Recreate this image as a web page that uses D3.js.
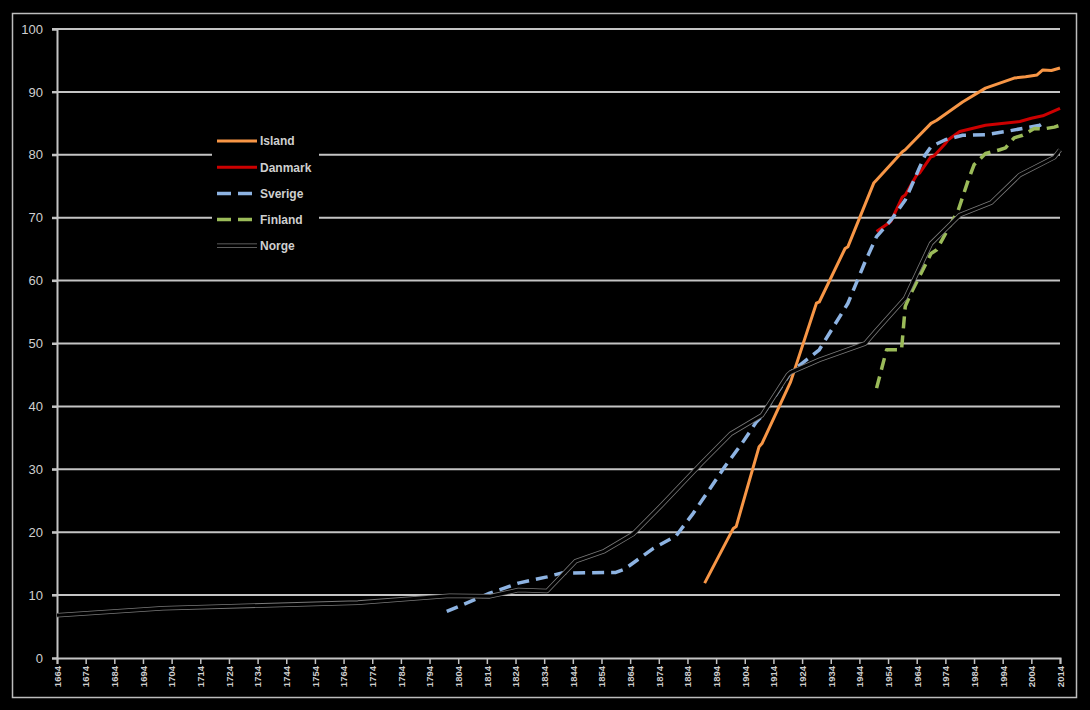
<!DOCTYPE html>
<html><head><meta charset="utf-8">
<script src="https://cdn.jsdelivr.net/npm/d3@7"></script>
<style>html,body{margin:0;padding:0;background:#000;overflow:hidden;} svg{display:block;}</style>
</head><body><svg id="c" width="1090" height="710"></svg>
<script>
const xTickYears = [1664,1674,1684,1694,1704,1714,1724,1734,1744,1754,1764,1774,1784,1794,1804,1814,1824,1834,1844,1854,1864,1874,1884,1894,1904,1914,1924,1934,1944,1954,1964,1974,1984,1994,2004,2014];
const yTicks = [0,10,20,30,40,50,60,70,80,90,100];
const seriesNames = ["Island","Danmark","Sverige","Finland","Norge"];

const islandYears  = [1890,1900,1901,1909,1910,1920,1929,1930,1939,1940,1949,1950,1959,1960,1969,1971,1980,1988,1998,2002,2006,2008,2011,2014];
const islandValues = [11.9,20.6,20.9,33.6,34.1,43.9,56.4,56.6,65.1,65.4,75.5,76.0,80.5,80.8,85.0,85.5,88.4,90.6,92.2,92.4,92.7,93.5,93.4,93.8];

const danmarkYears  = [1950,1955,1959,1960,1964,1965,1969,1970,1974,1975,1979,1988,2000,2004,2008,2014];
const danmarkValues = [67.8,69.4,73.3,73.6,76.8,77.1,79.7,79.8,81.8,82.4,83.7,84.7,85.3,85.8,86.2,87.4];

const sverigeYears  = [1800,1815,1825,1835,1840,1859,1862,1872,1880,1886,1897,1903,1908,1910,1920,1930,1940,1946,1950,1955,1960,1965,1967,1969,1974,1980,1988,1995,2001,2007,2009];
const sverigeValues = [7.4,10.3,11.9,12.9,13.5,13.6,14.1,17.4,19.4,23.0,30.4,34.1,37.5,38.5,45.4,49.0,56.4,63.0,67.0,69.6,72.8,78.0,80.0,81.3,82.4,83.1,83.2,83.7,84.2,84.7,85.3];

const finlandYears  = [1950,1953.5,1958.7,1960,1962,1969,1971,1978.5,1982,1984,1988,1993,1995,1998,2001,2005,2008,2012,2014];
const finlandValues = [42.9,49.0,49.0,55.9,58.0,64.3,64.9,71.2,76.0,78.4,80.2,80.8,81.1,82.7,83.1,84.2,84.1,84.4,84.7];

const norgeYears  = [1664,1701,1769,1801,1815,1825,1835,1845,1855,1865,1875,1889,1899,1910,1919,1920,1930,1946,1950,1960,1969,1979,1990,2000,2012,2014];
const norgeValues = [6.8,7.9,8.8,9.9,9.8,10.8,10.65,15.4,17.0,19.7,24.3,31.0,35.6,38.6,45.0,45.4,47.4,50.0,52.1,57.2,65.9,70.4,72.4,76.8,79.6,80.8];

const seriesYears  = [islandYears, danmarkYears, sverigeYears, finlandYears, norgeYears];
const seriesValues = [islandValues, danmarkValues, sverigeValues, finlandValues, norgeValues];
const seriesColors = ["#f79646","#cc0000","#8db3e2","#9bbb59","#000000"];
const seriesDash   = [null, null, "12,7", "12,7", null];
const seriesWidth  = [3, 3, 3.5, 3.5, 3];

const svg = d3.select("#c");
const L = 57, R = 1060, T = 29, B = 658;
const x = d3.scaleLinear().domain([1664, 2014]).range([L, R]);
const y = d3.scaleLinear().domain([0, 100]).range([B, T]);
const grid = "#c4c4c4";
const txt = "#cfcfcf";

// outer border
svg.append("rect").attr("x",12.5).attr("y",13.5).attr("width",1064).attr("height",684)
  .attr("fill","none").attr("stroke","#bdbdbd").attr("stroke-width",1.5);

// gridlines
svg.append("g").selectAll("line").data(yTicks.filter(d=>d>0)).join("line")
  .attr("x1", L-5).attr("x2", R).attr("y1", d=>y(d)).attr("y2", d=>y(d))
  .attr("stroke", grid).attr("stroke-width", 2);

// y axis
const yAxis = svg.append("g").attr("transform",`translate(${L},0)`)
  .call(d3.axisLeft(y).tickValues(yTicks).tickSize(5).tickPadding(9).tickFormat(d3.format("d")));
yAxis.select(".domain").attr("stroke",grid).attr("stroke-width",2);
yAxis.selectAll(".tick line").attr("stroke",grid).attr("stroke-width",2);
yAxis.selectAll("text").attr("fill",txt).style("font-family","'Liberation Sans', Arial, sans-serif").style("font-size","13px");

// x axis
const xAxis = svg.append("g").attr("transform",`translate(0,${B})`)
  .call(d3.axisBottom(x).tickValues(xTickYears).tickSize(6).tickFormat(d3.format("d")));
xAxis.select(".domain").attr("stroke",grid).attr("stroke-width",2);
xAxis.selectAll(".tick line").attr("stroke",grid).attr("stroke-width",1.5);
xAxis.selectAll("text")
  .attr("fill",txt).attr("transform","rotate(-90)")
  .attr("x",-8).attr("y",0).attr("dy","0.35em")
  .style("text-anchor","end")
  .style("font-family","'Liberation Sans', Arial, sans-serif").style("font-size","9.5px").style("font-weight","bold");

// lines
const line = d3.line().x(d=>x(d[0])).y(d=>y(d[1]));
const gl = svg.append("g");
seriesNames.forEach((name,i)=>{
  const pts = seriesYears[i].map((yr,j)=>[yr, seriesValues[i][j]]);
  if (name === "Norge") {
    gl.append("path").attr("d", line(pts)).attr("fill","none")
      .attr("stroke","#7a7a7a").attr("stroke-width",4.6).attr("stroke-linejoin","round");
  }
  gl.append("path").attr("d", line(pts)).attr("fill","none")
    .attr("stroke", seriesColors[i]).attr("stroke-width", seriesWidth[i])
    .attr("stroke-dasharray", seriesDash[i]).attr("stroke-linejoin","round");
});

// legend
const lg = svg.append("g");
lg.append("rect").attr("x",212).attr("y",128).attr("width",107).attr("height",130).attr("fill","#000");
seriesNames.forEach((name,i)=>{
  const ly = 141 + i*26.2;
  if (name === "Norge") {
    lg.append("line").attr("x1",217).attr("x2",257).attr("y1",ly).attr("y2",ly)
      .attr("stroke","#7a7a7a").attr("stroke-width",4.6);
  }
  lg.append("line").attr("x1",217).attr("x2",257).attr("y1",ly).attr("y2",ly)
    .attr("stroke",seriesColors[i]).attr("stroke-width",seriesWidth[i])
    .attr("stroke-dasharray", seriesDash[i] ? "14,7" : null);
  lg.append("text").attr("x",260).attr("y",ly).attr("dy","0.36em").text(name)
    .attr("fill",txt).style("font-family","'Liberation Sans', Arial, sans-serif")
    .style("font-size","12px").style("font-weight","bold");
});
</script></body></html>
